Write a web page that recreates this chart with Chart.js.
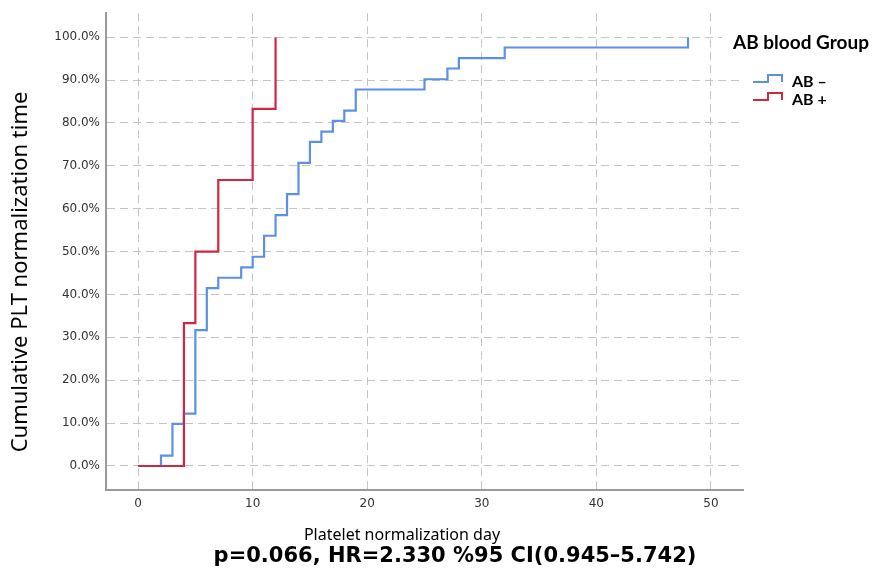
<!DOCTYPE html>
<html>
<head>
<meta charset="utf-8">
<script src="https://cdn.jsdelivr.net/npm/chart.js@4"></script>
<style>
    html, body { margin: 0; padding: 0; background: #fff; }
    #wrap { width: 875px; height: 570px; }
</style>
</head>
<body>
<div id="wrap"><canvas id="chartKM" width="875" height="570"></canvas></div>
<script>
// dias de normalizacion y porcentaje acumulado por grupo
let diasNeg = [0, 2, 3, 4, 5, 6, 7, 9, 10, 11, 12, 13, 14, 15, 16, 17, 18, 19, 25, 27, 28, 32, 48];
let acumNeg = [0, 2.4, 9.8, 12.2, 31.7, 41.5, 43.9, 46.3, 48.8, 53.7, 58.5, 63.4, 70.7, 75.6, 78.0, 80.5, 82.9, 87.8, 90.2, 92.7, 95.1, 97.6, 100];
let diasPos = [0, 4, 5, 7, 10, 12];
let acumPos = [0, 33.3, 50, 66.7, 83.3, 100];

let etiquetas = ['AB \u2013', 'AB +'];
let colores = ['#5b90e3', '#d2253f'];
let ticksX = [0, 10, 20, 30, 40, 50];
let ticksY = [0, 10, 20, 30, 40, 50, 60, 70, 80, 90, 100];

let tituloY = 'Cumulative PLT normalization time';
let tituloX = 'Platelet normalization day';
let subtitulo = 'p=0.066, HR=2.330 %95 CI(0.945\u20135.742)';
let tituloLeyenda = 'AB blood Group';

function puntos(xs, ys){
    return xs.map(function(x, i){ return {x: x, y: ys[i]}; });
}

// textos y leyenda dibujados a mano (estilo SPSS)
var textosPlugin = {
    id: 'textos',
    afterDraw: function(chart){
        var ctx = chart.ctx;
        ctx.save();
        ctx.fillStyle = '#000';

        // titulo eje Y
        ctx.save();
        ctx.translate(21, 272);
        ctx.rotate(-Math.PI / 2);
        ctx.font = '22px "Noto Sans"';
        ctx.textAlign = 'center';
        ctx.textBaseline = 'middle';
        ctx.fillText(tituloY, 0, 0);
        ctx.restore();

        // titulo eje X
        ctx.font = '16px "Noto Sans"';
        ctx.textAlign = 'center';
        ctx.textBaseline = 'middle';
        ctx.fillText(tituloX, 402, 535);

        // p / HR
        ctx.font = 'bold 21px "DejaVu Sans"';
        ctx.fillText(subtitulo, 455, 557);

        // leyenda
        ctx.fillStyle = '#fff';
        ctx.fillRect(722, 25, 153, 32);
        ctx.fillStyle = '#000';
        ctx.font = 'bold 19px Lato';
        ctx.textAlign = 'left';
        ctx.fillText(tituloLeyenda, 733, 43);

        ctx.font = 'bold 16px Lato';
        chart.data.datasets.forEach(function(ds, i){
            var y = 82 + i * 18;
            ctx.strokeStyle = ds.borderColor;
            ctx.lineWidth = 2;
            ctx.beginPath();
            ctx.moveTo(753, y);
            ctx.lineTo(768, y);
            ctx.lineTo(768, y - 7);
            ctx.lineTo(782, y - 7);
            ctx.lineTo(782, y);
            ctx.stroke();
            ctx.fillStyle = '#000';
            ctx.fillText(ds.label, 792, y);
        });
        ctx.restore();
    }
};

var grafico = new Chart(document.getElementById('chartKM'), {
    type: 'line',
    data: {
        datasets: [
            {
                label: etiquetas[0],
                data: puntos(diasNeg, acumNeg),
                borderColor: colores[0],
                borderWidth: 2.2,
                stepped: true,
                pointRadius: 0,
                fill: false,
                order: 2
            },
            {
                label: etiquetas[1],
                data: puntos(diasPos, acumPos),
                borderColor: colores[1],
                borderWidth: 2.2,
                stepped: true,
                pointRadius: 0,
                fill: false,
                order: 1
            }
        ]
    },
    options: {
        responsive: false,
        animation: false,
        layout: { padding: { left: 0, right: 132, top: 13, bottom: 0 } },
        plugins: {
            legend: { display: false },
            tooltip: { enabled: false }
        },
        scales: {
            x: {
                type: 'linear',
                min: -2.8,
                max: 52.8,
                afterBuildTicks: function(scale){
                    scale.ticks = ticksX.map(function(v){ return {value: v}; });
                },
                afterFit: function(scale){ scale.height = 80; },
                grid: { color: '#c4c4c4', lineWidth: 1, drawTicks: false },
                border: { color: '#9a9a9a', width: 2, dash: [8, 5] },
                ticks: { padding: 7, color: '#333', font: { family: 'DejaVu Sans', size: 12 }, maxRotation: 0 }
            },
            y: {
                type: 'linear',
                min: -5.6,
                max: 105.6,
                afterBuildTicks: function(scale){
                    scale.ticks = ticksY.map(function(v){ return {value: v}; });
                },
                afterFit: function(scale){ scale.width = 106; },
                grid: { color: '#c4c4c4', lineWidth: 1, drawTicks: false },
                border: { color: '#9a9a9a', width: 2, dash: [8, 5] },
                ticks: {
                    padding: 6,
                    color: '#333',
                    font: { family: 'DejaVu Sans', size: 12 },
                    callback: function(v){ return v.toFixed(1) + '%'; }
                }
            }
        }
    },
    plugins: [textosPlugin]
});
</script>
</body>
</html>
